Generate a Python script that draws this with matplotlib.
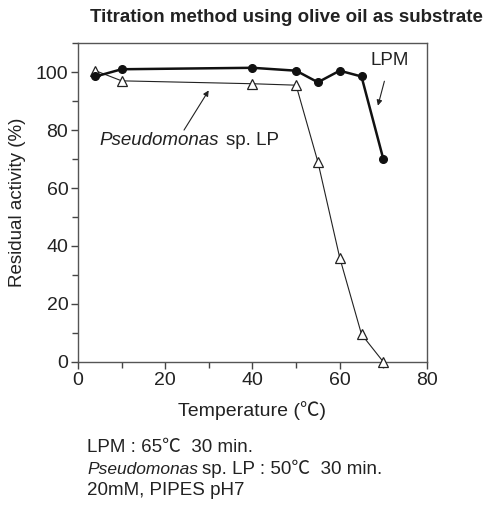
import matplotlib
matplotlib.use("Agg")
import matplotlib.pyplot as plt
from matplotlib.ticker import MultipleLocator

plt.rcParams['font.family'] = ['Liberation Sans', 'Noto Sans CJK JP', 'DejaVu Sans']

# data
temp = [4, 10, 40, 50, 55, 60, 65, 70]
lpm = [98.5, 101, 101.5, 100.5, 96.5, 100.5, 98.5, 70]
pseudo = [100.5, 97, 96, 95.5, 69, 36, 9.5, 0]

ink = '#222222'

fig = plt.figure(figsize=(4.97, 5.14), dpi=100)
ax = fig.add_axes([0.157, 0.296, 0.702, 0.62])

ax.plot(temp, pseudo, color=ink, lw=0.8, marker='^', ms=7,
        mfc='white', mec=ink, mew=0.9, zorder=3, clip_on=False)
ax.plot(temp, lpm, color='#111111', lw=1.8, marker='o', ms=5.5,
        mfc='#111111', mec='#111111', zorder=4, clip_on=False)

ax.set_xlim(0, 80)
ax.set_ylim(0, 110)
ax.set_xticks([0, 20, 40, 60, 80])
ax.set_yticks([0, 20, 40, 60, 80, 100])
ax.xaxis.set_minor_locator(MultipleLocator(10))
ax.yaxis.set_minor_locator(MultipleLocator(10))
ax.tick_params(which='both', direction='out', colors='#444444', labelcolor=ink,
               labelsize=14, width=1)
ax.tick_params(which='major', length=5, pad=2)
ax.tick_params(which='minor', length=4)
for s in ax.spines.values():
    s.set_color('#555555')
    s.set_linewidth(1)

ax.set_ylabel('Residual activity (%)', fontsize=13.5, color=ink, labelpad=7)
ax.set_xlabel('Temperature (℃)', fontsize=14, color=ink, labelpad=9)

ax.annotate('LPM', xy=(68.6, 87.5), xytext=(71.5, 104), fontsize=13.5, color=ink,
            ha='center', va='center',
            arrowprops=dict(arrowstyle='-|>', color=ink, lw=0.8, shrinkA=7,
                            mutation_scale=8))
ax.annotate('', xy=(30.3, 94.5), xytext=(24.3, 80),
            arrowprops=dict(arrowstyle='-|>', color=ink, lw=0.8, shrinkA=0,
                            mutation_scale=8))
t1 = ax.text(5, 76.5, 'Pseudomonas', fontsize=13.5, color=ink, va='center', style='italic')
ax.annotate('sp. LP', xy=(1, 0.5), xycoords=t1, xytext=(5, 0), textcoords='offset points',
            fontsize=13.5, color=ink, va='center')

fig.text(0.576, 0.965, 'Titration method using olive oil as substrate', ha='center',
         va='center', fontsize=13.5, fontweight='bold', color=ink)

# footnote
fig.text(0.175, 0.13, 'LPM : 65℃  30 min.', fontsize=13.5, color=ink, va='center')
f2 = fig.text(0.175, 0.087, 'Pseudomonas', fontsize=12.5, color=ink, va='center',
              style='italic')
ax.annotate('sp. LP : 50℃  30 min.', xy=(1, 0.5), xycoords=f2, xytext=(3, 0),
            textcoords='offset points', fontsize=13.5, color=ink, va='center')
fig.text(0.175, 0.045, '20mM, PIPES pH7', fontsize=13.5, color=ink, va='center')

fig.savefig('out.png', dpi=100)
